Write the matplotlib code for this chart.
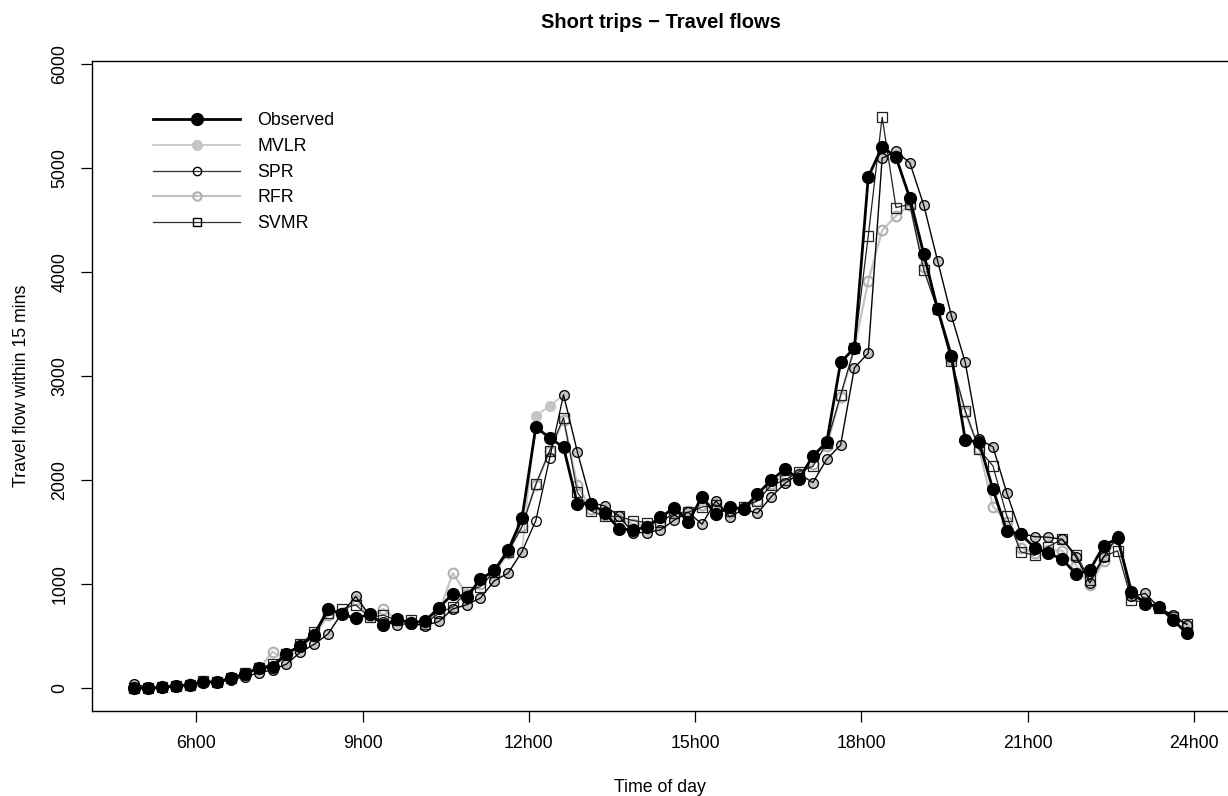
import numpy as np
import matplotlib
matplotlib.use('Agg')
from matplotlib import pyplot as plt
from matplotlib.lines import Line2D

plt.rcParams['font.family'] = ['Liberation Sans', 'DejaVu Sans']

# 15-minute slots from 4h45 to 24h00, each plotted at its midpoint
slot_start = np.arange(4.75, 24.0, 0.25)
hours = slot_start + 0.125

observed = [0, 0, 5, 20, 30, 60, 55, 100, 135, 195,
            205, 330, 405, 510, 760, 710, 670, 710, 610, 660,
            625, 645, 770, 905, 875, 1045, 1130, 1325, 1630, 2510,
            2405, 2315, 1770, 1770, 1685, 1530, 1520, 1550, 1640, 1735,
            1600, 1835, 1670, 1740, 1720, 1865, 2000, 2105, 2010, 2230,
            2365, 3130, 3270, 4915, 5205, 5105, 4710, 4175, 3645, 3195,
            2385, 2365, 1910, 1510, 1480, 1350, 1295, 1240, 1095, 1135,
            1370, 1440, 925, 810, 780, 655, 525]
mvlr = [40, 5, 5, 15, 30, 55, 60, 75, 110, 145,
        175, 230, 345, 420, 520, 720, 880, 700, 630, 610,
        620, 600, 640, 760, 800, 865, 1030, 1105, 1310, 2620,
        2710, 2820, 2270, 1780, 1750, 1655, 1495, 1495, 1520, 1615,
        1690, 1575, 1800, 1645, 1720, 1680, 1840, 1970, 2060, 1975,
        2200, 2335, 3080, 3220, 5095, 5160, 5050, 4645, 4110, 3580,
        3130, 2390, 2320, 1875, 1490, 1455, 1450, 1430, 1260, 1010,
        1260, 1465, 880, 910, 770, 700, 610]
spr = [40, 5, 5, 15, 30, 55, 60, 75, 110, 145,
       175, 230, 345, 420, 520, 720, 880, 700, 630, 610,
       620, 600, 640, 760, 800, 865, 1030, 1105, 1310, 1610,
       2210, 2820, 2270, 1780, 1750, 1655, 1495, 1495, 1520, 1615,
       1690, 1575, 1800, 1645, 1720, 1680, 1840, 1970, 2060, 1975,
       2200, 2335, 3080, 3220, 5095, 5160, 5050, 4645, 4110, 3580,
       3130, 2390, 2320, 1875, 1490, 1455, 1450, 1430, 1260, 1010,
       1260, 1465, 880, 910, 770, 700, 610]
rfr = [10, 0, 5, 20, 35, 60, 60, 90, 130, 180,
       350, 260, 400, 500, 700, 720, 850, 690, 760, 650,
       630, 640, 720, 1105, 900, 1000, 1100, 1300, 1560, 1950,
       2280, 2580, 1950, 1720, 1660, 1620, 1580, 1560, 1600, 1680,
       1700, 1760, 1780, 1700, 1740, 1800, 1960, 2050, 2060, 2150,
       2330, 2800, 3270, 3915, 4400, 4540, 4645, 4050, 3650, 3150,
       2650, 2300, 1745, 1600, 1350, 1300, 1330, 1320, 1180, 990,
       1220, 1460, 880, 830, 780, 690, 600]
svmr = [0, 0, 5, 20, 30, 65, 60, 100, 140, 190,
        230, 330, 420, 540, 720, 760, 800, 680, 700, 650,
        650, 620, 720, 780, 925, 975, 1120, 1310, 1550, 1960,
        2280, 2600, 1880, 1700, 1650, 1650, 1610, 1590, 1600, 1680,
        1690, 1740, 1760, 1700, 1740, 1800, 1950, 2000, 2080, 2130,
        2355, 2815, 3270, 4350, 5490, 4620, 4650, 4020, 3640, 3140,
        2665, 2295, 2135, 1655, 1310, 1275, 1360, 1430, 1280, 1040,
        1265, 1320, 845, 820, 770, 680, 615]

tick_hours = [6, 9, 12, 15, 18, 21, 24]
tick_labels = ['6h00', '9h00', '12h00', '15h00', '18h00', '21h00', '24h00']
y_ticks = [0, 1000, 2000, 3000, 4000, 5000, 6000]

light = '#c4c4c4'
mid = '#b0b0b0'
fs = 12.8

fig = plt.figure(figsize=(12.28, 7.96), dpi=100)
ax = fig.add_axes([92 / 1228, 85 / 796, 1137 / 1228, 650 / 796])

ax.plot(hours, mvlr, color=light, lw=1.2, marker='o', ms=7,
        mfc=light, mec=light, zorder=2)
ax.plot(hours, rfr, color=light, lw=1.6, marker='o', ms=7,
        mfc='none', mec=mid, mew=1.5, zorder=3)
ax.plot(hours, svmr, color='#222222', lw=0.9, marker='s', ms=6.8,
        mfc='none', mec='#222222', mew=0.9, zorder=4)
ax.plot(hours, spr, color='black', lw=0.9, marker='o', ms=7,
        mfc='none', mec='black', mew=0.9, zorder=5)
ax.plot(hours, observed, color='black', lw=2.0, marker='o', ms=8.5,
        mfc='black', mec='black', zorder=6)

ax.set_xlim(4.115, 24.635)
ax.set_ylim(-221, 6029)
ax.set_xticks(tick_hours)
ax.set_xticklabels(tick_labels)
ax.set_yticks(y_ticks)
ax.set_yticklabels([str(v) for v in y_ticks], rotation=90, va='center')
ax.tick_params(direction='out', length=8, width=0.9, labelsize=fs, pad=9)
for sp in ax.spines.values():
    sp.set_linewidth(1.0)

ax.set_xlabel('Time of day', fontsize=fs, va='center')
ax.xaxis.set_label_coords(0.5 - 1 / 1137, -76 / 650)
ax.set_ylabel('Travel flow within 15 mins', fontsize=fs, va='center')
ax.yaxis.set_label_coords(-71 / 1137, 0.5)
fig.text(661 / 1228, 1 - 22 / 796, 'Short trips \u2212 Travel flows',
         ha='center', va='center', fontsize=14.5, fontweight='bold')

handles = [
    Line2D([], [], color='black', lw=2.0, marker='o', ms=8.5, mfc='black', mec='black'),
    Line2D([], [], color=light, lw=1.2, marker='o', ms=7, mfc=light, mec=light),
    Line2D([], [], color='#333333', lw=0.9, marker='o', ms=6, mfc='none', mec='black'),
    Line2D([], [], color=light, lw=1.6, marker='o', ms=6, mfc='none', mec=mid, mew=1.5),
    Line2D([], [], color='#333333', lw=0.9, marker='s', ms=6, mfc='none', mec='black'),
]
ax.legend(handles, ['Observed', 'MVLR', 'SPR', 'RFR', 'SVMR'],
          loc='upper left', bbox_to_anchor=(0.0537, 0.921), frameon=False,
          fontsize=fs, handlelength=4.9, handletextpad=0.95, labelspacing=0.49,
          borderpad=0, borderaxespad=0)

fig.savefig('out.png', dpi=100)
